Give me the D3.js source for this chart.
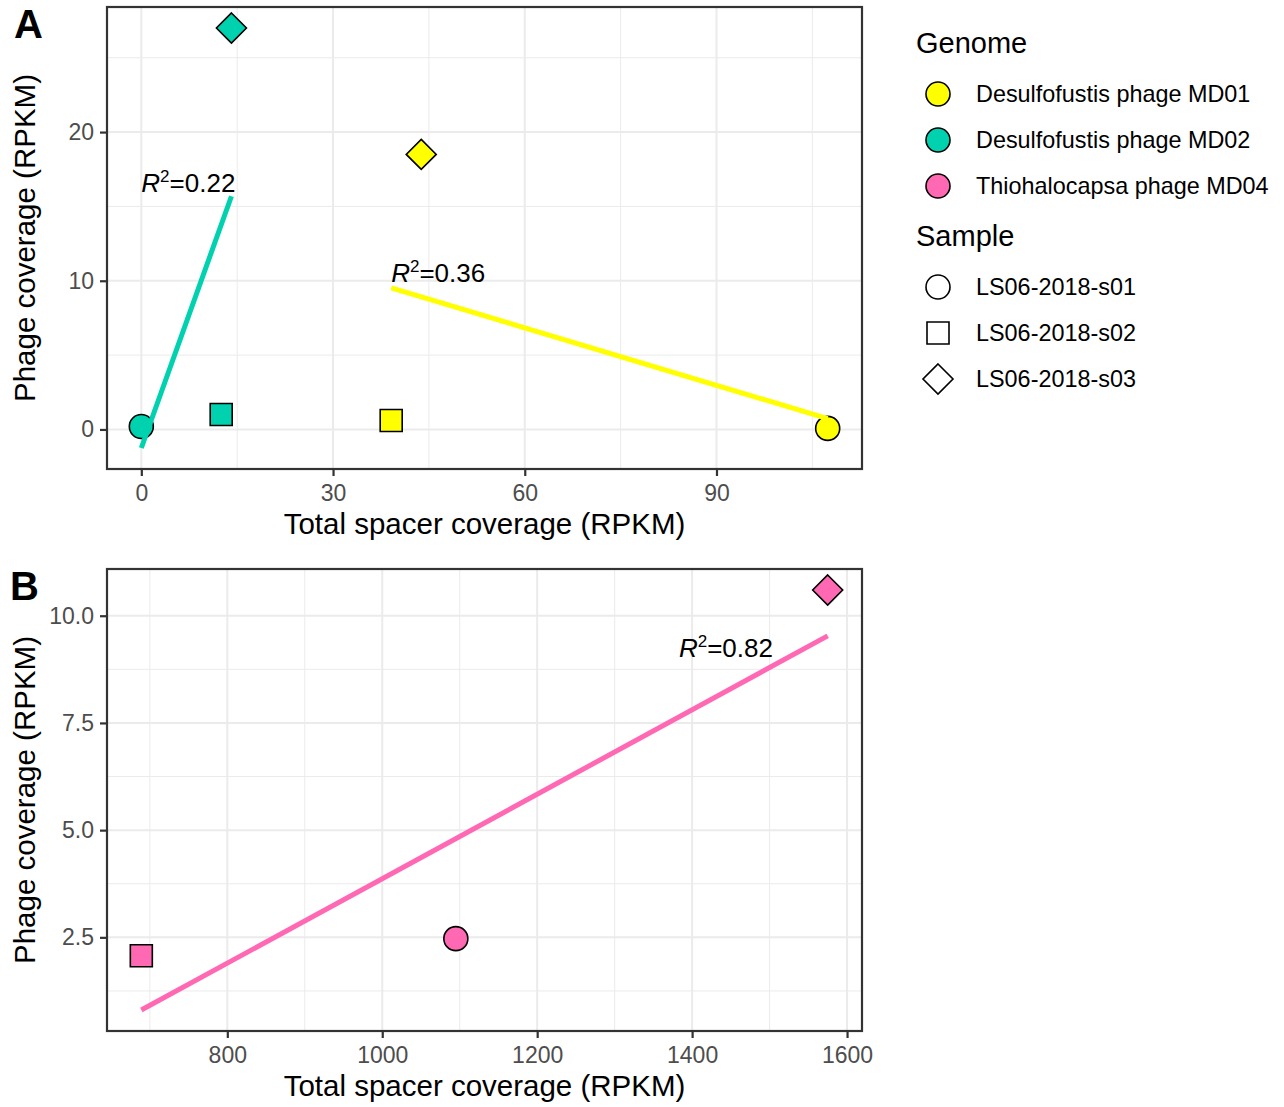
<!DOCTYPE html>
<html>
<head>
<meta charset="utf-8">
<script src="https://cdn.jsdelivr.net/npm/d3@7"></script>
<style>
  body { margin: 0; background: #fff; }
  text { font-family: "Liberation Sans", Arial, sans-serif; }
</style>
</head>
<body>
<div id="chart"></div>
<script>
// genome and sample categories
const genomes = ["Desulfofustis phage MD01", "Desulfofustis phage MD02", "Thiohalocapsa phage MD04"];
const genomeColors = ["#FFFF00", "#00D1AF", "#FF69B4"];
const samples = ["LS06-2018-s01", "LS06-2018-s02", "LS06-2018-s03"];

// panel A values (spacer RPKM, phage RPKM)
const aGenome  = [0, 0, 0, 1, 1, 1];
const aSample  = [0, 1, 2, 0, 1, 2];
const aSpacer  = [107.4, 39.1, 43.8, 0, 12.5, 14.1];
const aPhage   = [0.07, 0.6, 18.5, 0.2, 1.0, 27.0];
const aR2      = ["0.36", "0.22"];          // labels per genome (MD01, MD02)
const aLabelX  = [39.1, 0];
const aLabelY  = [9.9, 16.0];
const aXTicks  = [0, 30, 60, 90];
const aYTicks  = [0, 10, 20];

// panel B values
const bGenome  = [2, 2, 2];
const bSample  = [0, 1, 2];
const bSpacer  = [1095, 689, 1575];
const bPhage   = [2.47, 2.07, 10.6];
const bR2      = ["0.82"];
const bLabelX  = [1383];
const bLabelY  = [9.04];
const bXTicks  = [800, 1000, 1200, 1400, 1600];
const bYTicks  = [2.5, 5.0, 7.5, 10.0];

const W = 1284, H = 1107;
const svg = d3.select("#chart").append("svg")
    .attr("width", W)
    .attr("height", H);

function shapePath(s, cx, cy) {
    if (s === 0) {
        const r = 12;
        return `M${cx - r},${cy}a${r},${r} 0 1,0 ${2 * r},0a${r},${r} 0 1,0 ${-2 * r},0Z`;
    }
    if (s === 1) {
        const h = 11;
        return `M${cx - h},${cy - h}h${2 * h}v${2 * h}h${-2 * h}Z`;
    }
    const d = 15;
    return `M${cx},${cy - d}L${cx + d},${cy}L${cx},${cy + d}L${cx - d},${cy}Z`;
}

// simple least squares fit
function fit(xs, ys) {
    const mx = d3.mean(xs), my = d3.mean(ys);
    let sxy = 0, sxx = 0;
    xs.forEach((x, i) => { sxy += (x - mx) * (ys[i] - my); sxx += (x - mx) * (x - mx); });
    const b = sxy / sxx;
    return { b: b, a: my - b * mx };
}

function panel(opt) {
    const left = 107, right = 862, top = opt.top, bottom = opt.top + 462;
    const g = svg.append("g");

    const pts = opt.spacer.map((x, i) => ({ x: x, y: opt.phage[i], genome: opt.genome[i], sample: opt.sample[i] }));
    const groups = Array.from(new Set(opt.genome));
    const lines = groups.map(k => {
        const sub = pts.filter(p => p.genome === k);
        const f = fit(sub.map(p => p.x), sub.map(p => p.y));
        const x0 = d3.min(sub, p => p.x), x1 = d3.max(sub, p => p.x);
        return { genome: k, x0: x0, x1: x1, y0: f.a + f.b * x0, y1: f.a + f.b * x1 };
    });

    const xs = pts.map(p => p.x);
    const ys = pts.map(p => p.y).concat(lines.map(l => l.y0), lines.map(l => l.y1));
    const xe = d3.extent(xs), ye = d3.extent(ys);
    const xp = (xe[1] - xe[0]) * 0.05, yp = (ye[1] - ye[0]) * 0.05;

    const x = d3.scaleLinear().domain([xe[0] - xp, xe[1] + xp]).range([left, right]);
    const y = d3.scaleLinear().domain([ye[0] - yp, ye[1] + yp]).range([bottom, top]);

    // minor grid
    const xMinor = opt.xTicks.slice(0, -1).map((t, i) => (t + opt.xTicks[i + 1]) / 2);
    const xStep = opt.xTicks[1] - opt.xTicks[0];
    xMinor.unshift(opt.xTicks[0] - xStep / 2);
    xMinor.push(opt.xTicks[opt.xTicks.length - 1] + xStep / 2);
    const yStep = opt.yTicks[1] - opt.yTicks[0];
    const yMinor = opt.yTicks.map(t => t - yStep / 2).concat([opt.yTicks[opt.yTicks.length - 1] + yStep / 2]);

    g.selectAll(".xminor").data(xMinor.filter(v => x(v) > left && x(v) < right)).enter().append("line")
        .attr("x1", d => x(d)).attr("x2", d => x(d)).attr("y1", top).attr("y2", bottom)
        .attr("stroke", "#EBEBEB").attr("stroke-width", 1);
    g.selectAll(".yminor").data(yMinor.filter(v => y(v) > top && y(v) < bottom)).enter().append("line")
        .attr("y1", d => y(d)).attr("y2", d => y(d)).attr("x1", left).attr("x2", right)
        .attr("stroke", "#EBEBEB").attr("stroke-width", 1);
    g.selectAll(".xmajor").data(opt.xTicks).enter().append("line")
        .attr("x1", d => x(d)).attr("x2", d => x(d)).attr("y1", top).attr("y2", bottom)
        .attr("stroke", "#EBEBEB").attr("stroke-width", 2);
    g.selectAll(".ymajor").data(opt.yTicks).enter().append("line")
        .attr("y1", d => y(d)).attr("y2", d => y(d)).attr("x1", left).attr("x2", right)
        .attr("stroke", "#EBEBEB").attr("stroke-width", 2);

    // points
    g.selectAll(".pt").data(pts).enter().append("path")
        .attr("d", d => shapePath(d.sample, x(d.x), y(d.y)))
        .attr("fill", d => genomeColors[d.genome])
        .attr("stroke", "#000").attr("stroke-width", 1.6);

    // regression lines
    g.selectAll(".fit").data(lines).enter().append("line")
        .attr("x1", d => x(d.x0)).attr("y1", d => y(d.y0))
        .attr("x2", d => x(d.x1)).attr("y2", d => y(d.y1))
        .attr("stroke", d => genomeColors[d.genome]).attr("stroke-width", 5);

    // R2 labels
    opt.r2.forEach((r, i) => {
        const t = g.append("text")
            .attr("x", x(opt.labelX[i])).attr("y", y(opt.labelY[i]))
            .attr("font-size", 26).attr("fill", "#000");
        t.append("tspan").attr("font-style", "italic").text("R");
        t.append("tspan").attr("font-size", 17).attr("dy", -10).text("2");
        t.append("tspan").attr("dy", 10).text("=" + r);
    });

    // border
    g.append("rect").attr("x", left).attr("y", top).attr("width", right - left).attr("height", bottom - top)
        .attr("fill", "none").attr("stroke", "#333333").attr("stroke-width", 2.2);

    // axes
    const xAxis = g.append("g").attr("transform", `translate(0,${bottom})`)
        .call(d3.axisBottom(x).tickValues(opt.xTicks).tickSize(7).tickPadding(9).tickFormat(d3.format("d")));
    const yAxis = g.append("g").attr("transform", `translate(${left},0)`)
        .call(d3.axisLeft(y).tickValues(opt.yTicks).tickSize(7).tickPadding(6).tickFormat(opt.yFormat));
    [xAxis, yAxis].forEach(a => {
        a.select(".domain").remove();
        a.selectAll("line").attr("stroke", "#333333").attr("stroke-width", 2.2);
        a.selectAll("text").attr("fill", "#4D4D4D").attr("font-size", 23)
            .style("font-family", '"Liberation Sans", Arial, sans-serif');
    });

    g.append("text").attr("x", (left + right) / 2).attr("y", bottom + 65)
        .attr("text-anchor", "middle").attr("font-size", 29.5).text("Total spacer coverage (RPKM)");
    g.append("text").attr("transform", `translate(35,${(top + bottom) / 2}) rotate(-90)`)
        .attr("text-anchor", "middle").attr("font-size", 29.5).text("Phage coverage (RPKM)");

    g.append("text").attr("x", opt.letterX).attr("y", top + 31)
        .attr("font-size", 40).attr("font-weight", "bold").text(opt.letter);
}

panel({ top: 7, genome: aGenome, sample: aSample, spacer: aSpacer, phage: aPhage,
        r2: aR2, labelX: aLabelX, labelY: aLabelY, xTicks: aXTicks, yTicks: aYTicks,
        yFormat: d3.format("d"), letter: "A", letterX: 14 });
panel({ top: 569, genome: bGenome, sample: bSample, spacer: bSpacer, phage: bPhage,
        r2: bR2, labelX: bLabelX, labelY: bLabelY, xTicks: bXTicks, yTicks: bYTicks,
        yFormat: d3.format(".1f"), letter: "B", letterX: 10 });

// legend
const lg = svg.append("g");
lg.append("text").attr("x", 916).attr("y", 53).attr("font-size", 29).text("Genome");
genomes.forEach((gName, i) => {
    const cy = 94 + i * 46;
    lg.append("circle").attr("cx", 938).attr("cy", cy).attr("r", 12)
        .attr("fill", genomeColors[i]).attr("stroke", "#000").attr("stroke-width", 1.6);
    lg.append("text").attr("x", 976).attr("y", cy).attr("dy", "0.35em").attr("font-size", 23.4).text(gName);
});
lg.append("text").attr("x", 916).attr("y", 246).attr("font-size", 29).text("Sample");
samples.forEach((s, i) => {
    const cy = 287 + i * 46;
    lg.append("path").attr("d", shapePath(i, 938, cy))
        .attr("fill", "#fff").attr("stroke", "#000").attr("stroke-width", 1.6);
    lg.append("text").attr("x", 976).attr("y", cy).attr("dy", "0.35em").attr("font-size", 23.4).text(s);
});
</script>
</body>
</html>
